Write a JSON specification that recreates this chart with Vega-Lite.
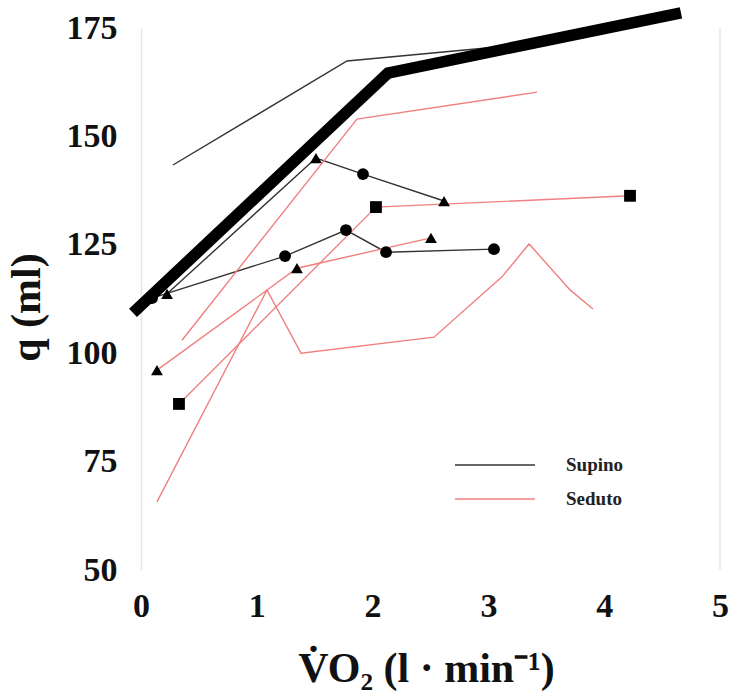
{
  "$schema": "https://vega.github.io/schema/vega-lite/v6.json",
  "width": 579,
  "height": 542,
  "autosize": "none",
  "padding": {"left": 141, "top": 28, "right": 12, "bottom": 122},
  "background": "white",
  "config": {
    "view": {"stroke": null},
    "font": "Liberation Serif"
  },
  "datasets": {
    "lines": [
      {"series": "S1", "group": "Supino", "x": 0.276, "y": 143.4, "marker": null},
      {"series": "S1", "group": "Supino", "x": 1.779, "y": 167.4, "marker": null},
      {"series": "S1", "group": "Supino", "x": 3.143, "y": 170.8, "marker": null},
      {"series": "S2", "group": "Supino", "x": 0.225, "y": 113.7, "marker": "triangle"},
      {"series": "S2", "group": "Supino", "x": 1.511, "y": 145.0, "marker": "triangle"},
      {"series": "S2", "group": "Supino", "x": 1.917, "y": 141.3, "marker": "circle"},
      {"series": "S2", "group": "Supino", "x": 2.617, "y": 135.1, "marker": "triangle"},
      {"series": "S3", "group": "Supino", "x": 0.095, "y": 112.7, "marker": "circle"},
      {"series": "S3", "group": "Supino", "x": 1.244, "y": 122.4, "marker": "circle"},
      {"series": "S3", "group": "Supino", "x": 1.770, "y": 128.4, "marker": "circle"},
      {"series": "S3", "group": "Supino", "x": 2.116, "y": 123.3, "marker": "circle"},
      {"series": "S3", "group": "Supino", "x": 3.048, "y": 124.0, "marker": "circle"},
      {"series": "R1", "group": "Seduto", "x": 0.354, "y": 103.0, "marker": null},
      {"series": "R1", "group": "Seduto", "x": 1.865, "y": 154.0, "marker": null},
      {"series": "R1", "group": "Seduto", "x": 3.420, "y": 160.2, "marker": null},
      {"series": "R2", "group": "Seduto", "x": 0.328, "y": 88.3, "marker": "square"},
      {"series": "R2", "group": "Seduto", "x": 2.029, "y": 133.7, "marker": "square"},
      {"series": "R2", "group": "Seduto", "x": 4.223, "y": 136.3, "marker": "square"},
      {"series": "R3", "group": "Seduto", "x": 0.138, "y": 96.1, "marker": "triangle"},
      {"series": "R3", "group": "Seduto", "x": 1.347, "y": 119.6, "marker": "triangle"},
      {"series": "R3", "group": "Seduto", "x": 2.504, "y": 126.6, "marker": "triangle"},
      {"series": "R4", "group": "Seduto", "x": 0.138, "y": 65.7, "marker": null},
      {"series": "R4", "group": "Seduto", "x": 1.088, "y": 114.6, "marker": null},
      {"series": "R4", "group": "Seduto", "x": 1.382, "y": 100.0, "marker": null},
      {"series": "R4", "group": "Seduto", "x": 2.530, "y": 103.7, "marker": null},
      {"series": "R4", "group": "Seduto", "x": 3.117, "y": 117.6, "marker": null},
      {"series": "R4", "group": "Seduto", "x": 3.351, "y": 125.2, "marker": null},
      {"series": "R4", "group": "Seduto", "x": 3.705, "y": 114.6, "marker": null},
      {"series": "R4", "group": "Seduto", "x": 3.903, "y": 110.2, "marker": null}
    ],
    "thick": [
      {"x": -0.069, "y": 109.3},
      {"x": 2.133, "y": 164.6},
      {"x": 4.663, "y": 178.5}
    ]
  },
  "layer": [
    {
      "data": {"values": [{"x": 5}]},
      "mark": {"type": "rule", "color": "#e6e6e6", "strokeWidth": 1.5},
      "encoding": {
        "x": {"field": "x", "type": "quantitative", "scale": {"domain": [0, 5]}}
      }
    },
    {
      "data": {"name": "lines"},
      "mark": {"type": "line", "strokeWidth": 1.4},
      "encoding": {
        "x": {
          "field": "x", "type": "quantitative",
          "scale": {"domain": [0, 5], "nice": false, "zero": false},
          "axis": {
            "values": [0, 1, 2, 3, 4, 5], "format": "d", "domain": false, "ticks": false, "grid": false,
            "labelFlush": false,
            "labelFont": "Liberation Serif", "labelFontWeight": "bold", "labelFontSize": 34, "labelColor": "#111",
            "labelPadding": 19, "labelBaseline": "top",
            "title": "V̇O₂ (l · min⁻¹)", "titleFont": "Liberation Serif", "titleFontWeight": "bold",
            "titleFontSize": 42, "titleColor": "#111", "titleX": 285, "titleY": 111, "titleBaseline": "alphabetic"
          }
        },
        "y": {
          "field": "y", "type": "quantitative",
          "scale": {"domain": [50, 175], "nice": false, "zero": false},
          "axis": {
            "values": [50, 75, 100, 125, 150, 175], "domain": true, "domainColor": "#e6e6e6", "domainWidth": 1.5,
            "ticks": false, "grid": false, "labelFlush": false,
            "labelFont": "Liberation Serif", "labelFontWeight": "bold", "labelFontSize": 34, "labelColor": "#111",
            "labelPadding": 24,
            "title": "q (ml)", "titleFont": "Liberation Serif", "titleFontWeight": "bold",
            "titleFontSize": 42, "titleColor": "#111", "titleX": -115, "titleY": 279, "titleBaseline": "middle", "titleAngle": -90
          }
        },
        "detail": {"field": "series"},
        "color": {
          "field": "group", "type": "nominal",
          "scale": {"domain": ["Supino", "Seduto"], "range": ["#333333", "#f08080"]},
          "legend": {
            "title": null, "orient": "none", "legendX": 343, "legendY": 426,
            "symbolType": "M-4,0L4,0", "symbolSize": 400, "symbolStrokeWidth": 1.5,
            "labelFont": "Liberation Serif", "labelFontWeight": "bold", "labelFontSize": 19, "labelColor": "#222",
            "labelOffset": 60, "rowPadding": 13, "padding": 0
          }
        }
      }
    },
    {
      "data": {"name": "lines"},
      "transform": [{"filter": "datum.marker != null"}],
      "mark": {"type": "point", "filled": true, "color": "black", "opacity": 1, "size": 140},
      "encoding": {
        "x": {"field": "x", "type": "quantitative"},
        "y": {"field": "y", "type": "quantitative"},
        "shape": {
          "field": "marker", "type": "nominal",
          "scale": {"domain": ["circle", "triangle", "square"], "range": ["circle", "triangle-up", "square"]},
          "legend": null
        }
      }
    },
    {
      "data": {"name": "thick"},
      "mark": {"type": "line", "color": "black", "strokeWidth": 11.5, "strokeCap": "butt", "strokeJoin": "miter"},
      "encoding": {
        "x": {"field": "x", "type": "quantitative"},
        "y": {"field": "y", "type": "quantitative"}
      }
    }
  ]
}
